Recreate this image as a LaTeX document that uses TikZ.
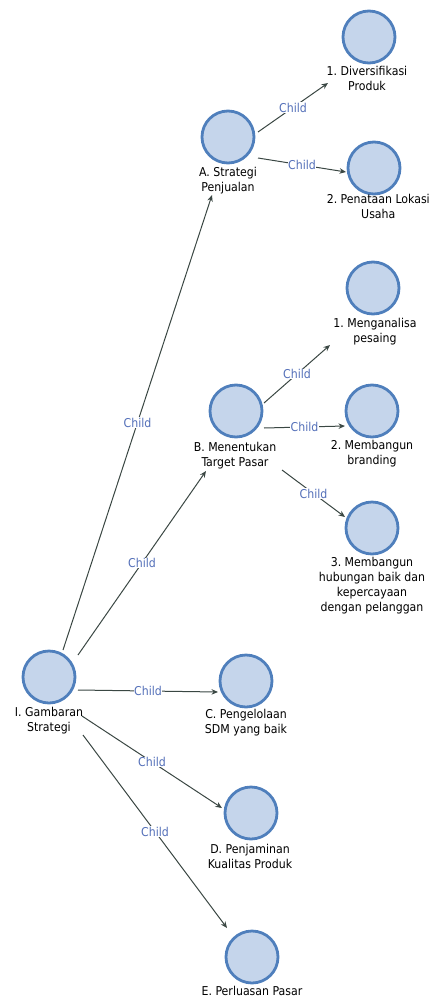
\documentclass[tikz,border=0pt]{standalone}
\usepackage{fontspec}
\setmainfont{DejaVu Sans Condensed}
\frenchspacing
\usetikzlibrary{calc,arrows.meta}
\definecolor{ringblue}{HTML}{4F7FBC}
\definecolor{discfill}{HTML}{C5D5EB}
\definecolor{linkgrey}{HTML}{3A4743}
\definecolor{childblue}{HTML}{5470B9}
\begin{document}
\begin{tikzpicture}[x=1pt,y=1pt,
  topic/.style={circle,draw=ringblue,fill=discfill,line width=2.8pt,minimum size=52pt,inner sep=0pt},
  caption/.style={anchor=north,align=center,inner sep=0pt,font=\fontsize{12.2}{14.9}\selectfont},
  link/.style={draw=linkgrey,line width=1pt,-{Stealth[length=6.5pt,width=5.5pt]}},
  childtag/.style={midway,fill=white,inner sep=0.6pt,text=childblue,font=\fontsize{12.2}{13}\selectfont}]
\useasboundingbox (0,0) rectangle (431,-1001);

% topic discs
\node[topic] (I)  at (49,-677) {};
\node[topic] (A)  at (228,-137) {};
\node[topic] (A1) at (369,-37) {};
\node[topic] (A2) at (374,-168) {};
\node[topic] (B)  at (236,-411) {};
\node[topic] (B1) at (373,-288) {};
\node[topic] (B2) at (372,-411) {};
\node[topic] (B3) at (372,-528) {};
\node[topic] (C)  at (246,-681) {};
\node[topic] (D)  at (251,-813) {};
\node[topic] (E)  at (252,-957) {};

% captions under the discs
\node[caption] (Il)  at ($(I)+(0,-30)$)   {I. Gambaran\\Strategi};
\node[caption] (Al)  at ($(A)+(0,-30)$)   {A. Strategi\\Penjualan};
\node[caption] (A1l) at ($(A1)+(-2,-29)$) {1. Diversifikasi\\Produk};
\node[caption,anchor=north east] (A2l) at ($(A2)+(56,-26)$) {2. Penataan Lokasi\\Usaha};
\node[caption] (Bl)  at ($(B)+(-1,-31)$)  {B. Menentukan\\Target Pasar};
\node[caption] (B1l) at ($(B1)+(2,-30)$)  {1. Menganalisa\\pesaing};
\node[caption] (B2l) at ($(B2)+(0,-29)$)  {2. Membangun\\branding};
\node[caption] (B3l) at ($(B3)+(0,-29)$)  {3. Membangun\\hubungan baik dan\\kepercayaan\\dengan pelanggan};
\node[caption] (Cl)  at ($(C)+(0,-28)$)   {C. Pengelolaan\\SDM yang baik};
\node[caption] (Dl)  at ($(D)+(-1,-31)$)  {D. Penjaminan\\Kualitas Produk};
\node[caption] (El)  at ($(E)+(0,-29)$)   {E. Perluasan Pasar};

% child links from the root
\draw[link] ($(I)+(14,27)$)  -- node[childtag]{Child} ($(A)+(-16,-58)$);
\draw[link] ($(I)+(29,22)$)  -- node[childtag]{Child} ($(B)+(-30,-60)$);
\draw[link] ($(I)+(29,-13)$) -- node[childtag]{Child} ($(C)+(-28,-11)$);
\draw[link] ($(I)+(33,-39)$) -- node[childtag]{Child} ($(D)+(-29,5)$);
\draw[link] ($(I)+(34,-58)$) -- node[childtag]{Child} ($(E)+(-25,29)$);

% child links of A
\draw[link] ($(A)+(30,5)$)   -- node[childtag]{Child} ($(A1)+(-41,-46)$);
\draw[link] ($(A)+(30,-21)$) -- node[childtag]{Child} ($(A2)+(-28,-4)$);

% child links of B
\draw[link] ($(B)+(28,8)$)   -- node[childtag]{Child} ($(B1)+(-43,-57)$);
\draw[link] ($(B)+(28,-17)$) -- node[childtag]{Child} ($(B2)+(-27,-15)$);
\draw[link] ($(B)+(46,-59)$) -- node[childtag]{Child} ($(B3)+(-27,11)$);
\end{tikzpicture}
\end{document}
